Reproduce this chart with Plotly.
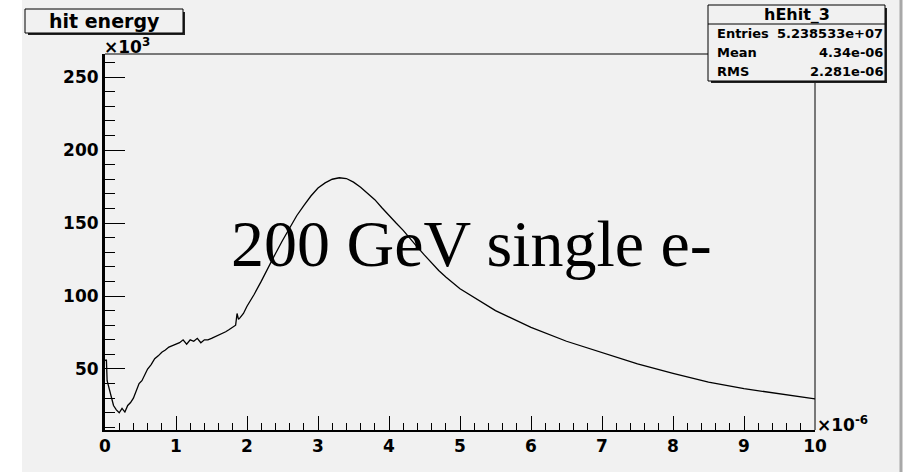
import plotly.graph_objects as go

# ---------------- data (x in units of 1e-6, y in units of 1e3) ----------------
x_vals = [0.0, 0.02, 0.03, 0.05, 0.08, 0.12, 0.16, 0.2, 0.24, 0.28, 0.32, 0.36, 0.4, 0.44,
          0.48, 0.52, 0.56, 0.6, 0.65, 0.7, 0.75, 0.8, 0.85, 0.9, 0.95, 1.0, 1.05, 1.1,
          1.15, 1.2, 1.25, 1.3, 1.35, 1.4, 1.45, 1.5, 1.55, 1.6, 1.65, 1.7, 1.75, 1.8,
          1.84, 1.86, 1.88, 1.9, 1.95, 2.0, 2.1, 2.2, 2.3, 2.4, 2.5, 2.6, 2.7, 2.8, 2.9,
          3.0, 3.1, 3.2, 3.3, 3.4, 3.5, 3.6, 3.7, 3.8, 3.9, 4.0, 4.1, 4.2, 4.3, 4.4, 4.5,
          4.6, 4.7, 4.8, 4.9, 5.0, 5.5, 6.0, 6.5, 7.0, 7.5, 8.0, 8.5, 9.0, 9.5, 10.0]
y_vals = [56, 56, 42, 38, 31, 25, 22, 20, 23, 20.5, 25, 27, 30, 35,
          40, 42, 46, 50, 53, 57, 59, 61.5, 63, 65, 66, 67, 68, 70,
          67, 70, 69, 71, 68, 70, 70, 71, 72, 73, 74, 75.5, 77, 79,
          80, 88, 84, 85, 88, 93, 101, 110, 120, 129, 138, 147, 155, 162, 168.5,
          174, 177.5, 180, 181, 180.5, 178, 174.5, 170.5, 166, 160.5, 155, 150, 145, 139, 133.5, 128,
          122.5, 117.5, 113, 109, 105, 90, 78.5, 69, 61, 53.5, 47, 41, 36.5, 33, 29.5]

x_ticks = [0, 1, 2, 3, 4, 5, 6, 7, 8, 9, 10]
y_ticks = [50, 100, 150, 200, 250]
title_text = "hit energy"
stats_title = "hEhit_3"
stats_labels = ["Entries", "Mean", "RMS"]
stats_values = ["5.238533e+07", "4.34e-06", "2.281e-06"]
overlay_text = "200 GeV single e-"

# ---------------- geometry helpers ----------------
W, H = 906, 475
L, R, T, B = 105, 815, 54, 430
BG = "#f1f1f1"
SANS = "DejaVu Sans"


def fx(px):
    return (px - L) / (R - L)


def fy(py):
    return (B - py) / (B - T)


fig = go.Figure()
fig.add_trace(go.Scatter(x=x_vals, y=y_vals, mode="lines",
                         line=dict(color="black", width=1.3), hoverinfo="skip",
                         showlegend=False))

shapes = []
# canvas gray area and right edge
shapes.append(dict(type="rect", xref="paper", yref="paper", x0=fx(22), x1=fx(900),
                   y0=fy(472), y1=fy(0), fillcolor=BG, line=dict(width=0), layer="below"))
shapes.append(dict(type="line", xref="paper", yref="paper", x0=fx(901), x1=fx(901),
                   y0=fy(472), y1=fy(0), line=dict(color="#a8a8a8", width=3), layer="below"))
# frame top and right
shapes.append(dict(type="line", xref="paper", yref="paper", x0=0, x1=1, y0=1, y1=1,
                   line=dict(color="black", width=1)))
shapes.append(dict(type="line", xref="paper", yref="paper", x0=1, x1=1, y0=0, y1=1,
                   line=dict(color="black", width=1)))


def box(x0, y0, x1, y1):
    # shadow then box
    shapes.append(dict(type="rect", xref="paper", yref="paper", x0=fx(x0 + 3), x1=fx(x1 + 2),
                       y0=fy(y1 + 2), y1=fy(y0 + 3), fillcolor="#222222",
                       line=dict(width=0)))
    shapes.append(dict(type="rect", xref="paper", yref="paper", x0=fx(x0), x1=fx(x1),
                       y0=fy(y1), y1=fy(y0), fillcolor=BG,
                       line=dict(color="black", width=1)))


STAT_TOP = 5
ROW = 19
box(25, 9, 183, 33)
box(708, STAT_TOP, 885, STAT_TOP + 4 * ROW)
shapes.append(dict(type="line", xref="paper", yref="paper", x0=fx(708), x1=fx(885),
                   y0=fy(STAT_TOP + ROW), y1=fy(STAT_TOP + ROW),
                   line=dict(color="black", width=1)))

ann = []


def text(t, x, y, size, xanchor="center", family=SANS, weight="bold"):
    ann.append(dict(text=t, xref="paper", yref="paper", x=fx(x), y=fy(y), xanchor=xanchor,
                    yanchor="middle", showarrow=False,
                    font=dict(family=family, size=size, color="black", weight=weight)))


text(title_text, 104, 21, 19)
text("×10<sup>3</sup>", 102, 46, 17, xanchor="left")
text("×10<sup>-6</sup>", 815, 424, 17, xanchor="left")
text(stats_title, 797, STAT_TOP + ROW / 2, 16)
for i, (lab, val) in enumerate(zip(stats_labels, stats_values)):
    yy = STAT_TOP + ROW * (i + 1.5)
    text(lab, 715, yy, 13, xanchor="left")
    text(val, 885, yy, 13, xanchor="right")
text(overlay_text, 229, 243.5, 66, xanchor="left", family="Liberation Serif", weight="normal")

fig.update_layout(
    width=W, height=H, autosize=False,
    margin=dict(l=L, r=W - R, t=T, b=H - B, pad=0),
    paper_bgcolor="white", plot_bgcolor=BG,
    shapes=shapes, annotations=ann, showlegend=False,
    xaxis=dict(range=[0, 10], showgrid=False, zeroline=False, showline=True,
               linecolor="black", linewidth=2, ticks="inside", tickvals=x_ticks,
               ticklen=14, tickwidth=1, tickcolor="black",
               tickfont=dict(family=SANS, size=17, color="black", weight="bold"),
               minor=dict(ticks="inside", dtick=0.2, tick0=0, ticklen=7,
                          tickcolor="black", tickwidth=1, showgrid=False)),
    yaxis=dict(range=[8.2, 265.8], showgrid=False, zeroline=False, showline=True,
               linecolor="black", linewidth=3, ticks="inside", tickvals=y_ticks,
               ticklen=20, tickwidth=1, tickcolor="black",
               tickfont=dict(family=SANS, size=17, color="black", weight="bold"),
               minor=dict(ticks="inside", dtick=10, tick0=0, ticklen=10,
                          tickcolor="black", tickwidth=1, showgrid=False)),
)

fig.write_html("out.html")
